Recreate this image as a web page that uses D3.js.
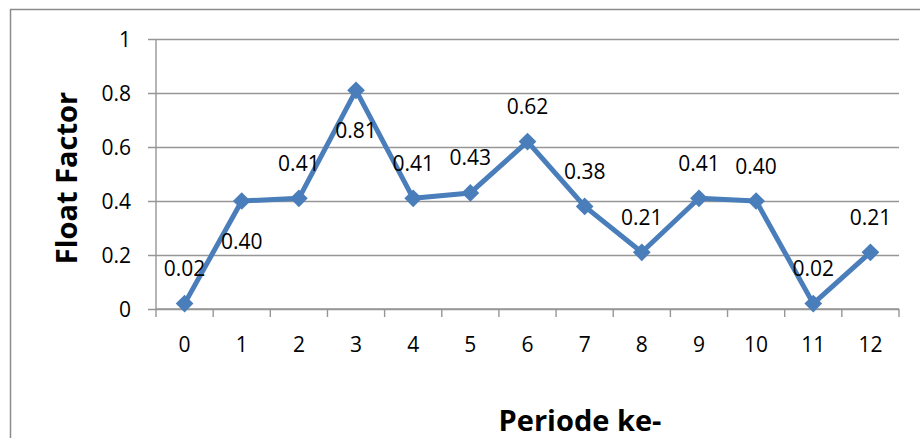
<!DOCTYPE html>
<html>
<head>
<meta charset="utf-8">
<script src="https://cdn.jsdelivr.net/npm/d3@7"></script>
<style>
  html, body { margin: 0; padding: 0; background: #fff; }
  svg { display: block; }
  text { font-family: "Open Sans", "Liberation Sans", sans-serif; fill: #000; }
</style>
</head>
<body>
<svg id="chart" width="920" height="438"></svg>
<script>
// ---- data ----
const categories = ["0","1","2","3","4","5","6","7","8","9","10","11","12"];
const floatFactor = [0.02, 0.40, 0.41, 0.81, 0.41, 0.43, 0.62, 0.38, 0.21, 0.41, 0.40, 0.02, 0.21];
const valueLabels = ["0.02","0.40","0.41","0.81","0.41","0.43","0.62","0.38","0.21","0.41","0.40","0.02","0.21"];
const yTicks = [0, 0.2, 0.4, 0.6, 0.8, 1];
const yTickLabels = ["0","0.2","0.4","0.6","0.8","1"];
const yTitle = "Float Factor";
const xTitle = "Periode ke-";
// label placement per point (above / below the marker)
const labelSide = ["above","below","above","below","above","above","above","above","above","above","above","above","above"];

// ---- layout ----
const W = 920, H = 438;
const plot = { left: 156, right: 899, top: 39, bottom: 309 };
const blue = "#4a7ebb";
const gridColor = "#969696";

const svg = d3.select("#chart");

// outer frame
svg.append("rect")
  .attr("x", 10.5).attr("y", 9.5)
  .attr("width", W + 20).attr("height", H + 20)
  .attr("fill", "none").attr("stroke", "#8c8c8c").attr("stroke-width", 1.5);

const x = d3.scaleBand().domain(categories).range([plot.left, plot.right]).padding(0);
const y = d3.scaleLinear().domain([0, 1]).range([plot.bottom, plot.top]);

// gridlines (incl. extension ticks to left)
const yAxis = d3.axisLeft(y).tickValues(yTicks).tickSize(-(plot.right - plot.left)).tickFormat("");
const gy = svg.append("g").attr("transform", `translate(${plot.left},0)`).call(yAxis);
gy.select(".domain").remove();
gy.selectAll(".tick line").attr("stroke", gridColor).attr("stroke-width", 1.4).attr("x1", -8);

// y tick labels
svg.append("g").selectAll("text").data(yTicks).join("text")
  .attr("x", 131).attr("y", d => y(d))
  .attr("dy", "0.36em")
  .attr("text-anchor", "end")
  .attr("font-size", 21)
  .text((d, i) => yTickLabels[i]);

// y axis line
svg.append("line")
  .attr("x1", plot.left).attr("x2", plot.left)
  .attr("y1", plot.top).attr("y2", plot.bottom)
  .attr("stroke", gridColor).attr("stroke-width", 1.4);

// x axis
const xAxis = d3.axisBottom(x).tickSize(8).tickFormat("");
const gx = svg.append("g").attr("transform", `translate(0,${plot.bottom})`).call(xAxis);
gx.select(".domain").attr("stroke", gridColor).attr("stroke-width", 1.4)
  .attr("d", `M${plot.left},0H${plot.right}`);
gx.selectAll(".tick line").attr("stroke", gridColor).attr("stroke-width", 1.4)
  .attr("transform", `translate(${x.bandwidth()/2},0)`);
// add the left boundary tick
gx.append("line").attr("x1", plot.left).attr("x2", plot.left).attr("y1", 0).attr("y2", 8)
  .attr("stroke", gridColor).attr("stroke-width", 1.4);

svg.append("g").selectAll("text").data(categories).join("text")
  .attr("x", d => x(d) + x.bandwidth() / 2)
  .attr("y", 352)
  .attr("text-anchor", "middle")
  .attr("font-size", 21)
  .text(d => d);

// line
const cx = (d, i) => x(categories[i]) + x.bandwidth() / 2;
const line = d3.line().x(cx).y(d => y(d));
svg.append("path").datum(floatFactor)
  .attr("d", line)
  .attr("fill", "none").attr("stroke", blue).attr("stroke-width", 5)
  .attr("stroke-linejoin", "round");

// diamond markers
const diamond = d3.symbol().type(d3.symbolDiamond2).size(200);
svg.append("g").selectAll("path").data(floatFactor).join("path")
  .attr("d", diamond)
  .attr("transform", (d, i) => `translate(${cx(d, i)},${y(d)})`)
  .attr("fill", blue);

// data labels
svg.append("g").selectAll("text").data(floatFactor).join("text")
  .attr("x", cx)
  .attr("y", (d, i) => y(d) + (labelSide[i] === "above" ? -35 : 40))
  .attr("dy", "0.36em")
  .attr("text-anchor", "middle")
  .attr("font-size", 21)
  .text((d, i) => valueLabels[i]);

// axis titles
svg.append("text")
  .attr("transform", `translate(77,${(plot.top + plot.bottom) / 2 + 4}) rotate(-90)`)
  .attr("text-anchor", "middle")
  .attr("font-size", 29).attr("font-weight", "bold")
  .text(yTitle);

svg.append("text")
  .attr("x", 580).attr("y", 431)
  .attr("text-anchor", "middle")
  .attr("font-size", 29).attr("font-weight", "bold")
  .text(xTitle);
</script>
</body>
</html>
